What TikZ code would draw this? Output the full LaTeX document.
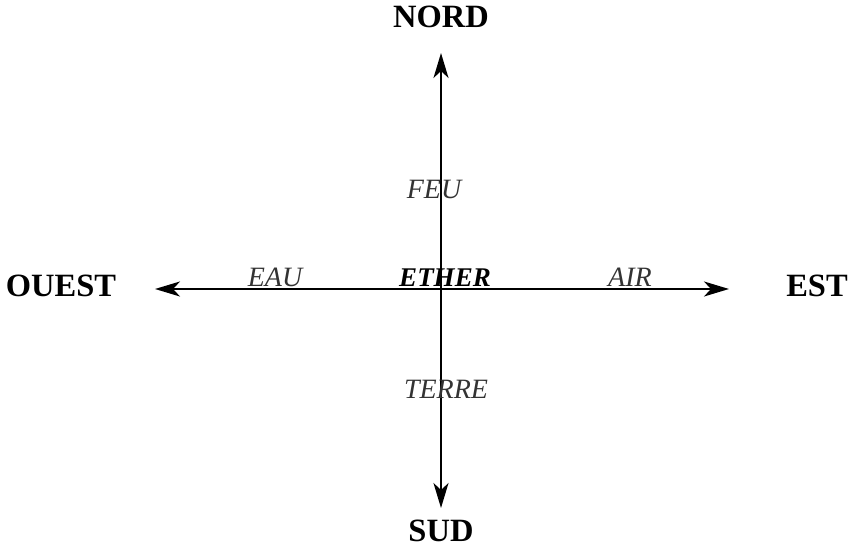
\documentclass[tikz,border=0pt]{standalone}
\usepackage{fontspec}
\setmainfont{Liberation Serif}
\usetikzlibrary{arrows.meta}
\begin{document}
\begin{tikzpicture}[x=1pt,y=-1pt,
  dir/.style={font=\fontsize{32.5}{34}\selectfont\bfseries, inner sep=0pt, anchor=base},
  elem/.style={font=\fontsize{28}{30}\selectfont\itshape, inner sep=0pt, anchor=base, text=black!80},
  axis/.style={line width=2.2pt, -{Stealth[length=25pt,width=15pt,inset=7pt]}}]
\useasboundingbox (0,0) rectangle (852,548);
\coordinate (c) at (441,289);
\coordinate (tn) at (441,53);
\coordinate (ts) at (441,508);
\coordinate (tw) at (155,289);
\coordinate (te) at (729,289);
\draw[axis] (c) -- (tn);
\draw[axis] (c) -- (ts);
\draw[axis] (c) -- (tw);
\draw[axis] (c) -- (te);
\node[dir] (nord) at (441,28) {NORD};
\node[dir] (sud) at (441,541) {SUD};
\node[dir] (ouest) at (61,297) {OUEST};
\node[dir] (est) at (817,297) {EST};
\node[elem] (feu) at (434,199) {FEU};
\node[elem] (eau) at (275,287) {EAU};
\node[elem] (air) at (630,287) {AIR};
\node[elem] (terre) at (446,398) {TERRE};
\node[elem, font=\fontsize{27}{29}\selectfont\bfseries\itshape, text=black] (ether) at (445,287) {ETHER};
\end{tikzpicture}
\end{document}
